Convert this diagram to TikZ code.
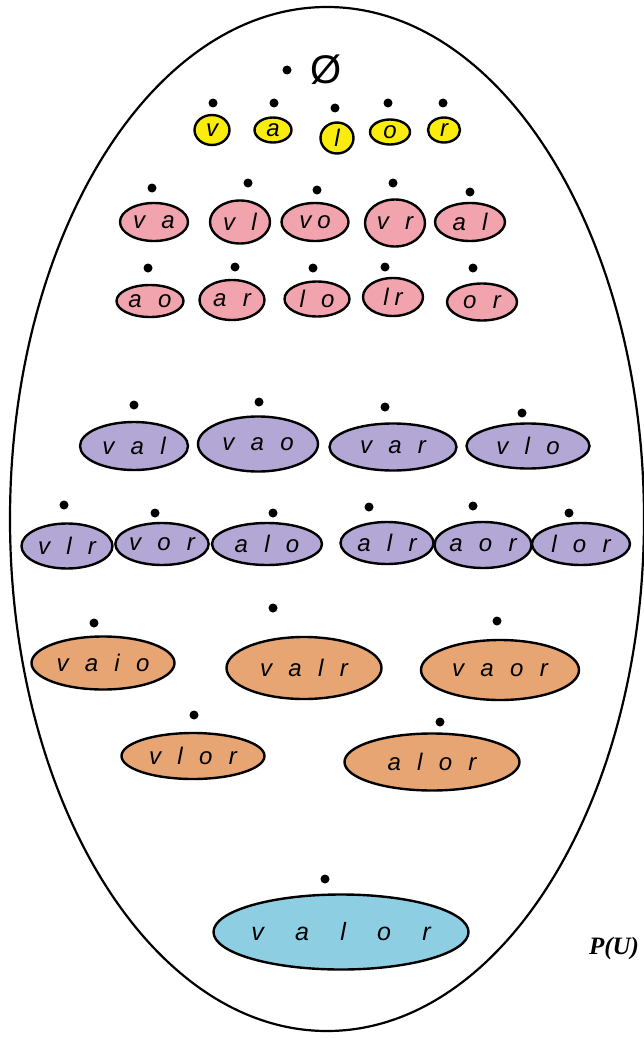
\documentclass[tikz,border=0pt]{standalone}
\usepackage{fontspec}
\setmainfont{Liberation Sans}
\newfontfamily\timesfont{Liberation Serif}
\usepackage{tikz}
\usetikzlibrary{shapes.geometric,positioning}
\usepackage{xcolor}
\definecolor{oneyellow}{RGB}{250,236,12}
\definecolor{twopink}{RGB}{242,164,174}
\definecolor{threeviolet}{RGB}{179,167,213}
\definecolor{fourorange}{RGB}{231,165,115}
\definecolor{fiveblue}{RGB}{142,206,226}
\newcommand{\lgap}{\hspace{0.68em}}
\newcommand{\sgap}{\hspace{0.25em}}
\newcommand{\wgap}{\hspace{1.25em}}

\begin{document}
\begin{tikzpicture}[x=1pt, y=-1pt,
  subset/.style={ellipse, draw=black, line width=2.4pt, inner sep=0pt, text=black, font=\fontsize{24}{26}\selectfont\itshape},
  elem/.style={subset, fill=oneyellow, font=\fontsize{24}{26}\selectfont\itshape},
  dot/.style={circle, fill=black, inner sep=0pt, minimum size=9pt}]
\useasboundingbox (0,0) rectangle (643,1038);
%

% POWER SET
\node [ellipse, draw=black, line width=2.2pt, minimum width=634pt, minimum height=1024pt] (PU) at (327,519) {};
\node [font=\fontsize{25}{27}\selectfont\timesfont\bfseries\itshape] (PU_label) at (614,948) {P(U)};

% EMPTY SET
\node [dot] (d_empty) at (287,70) {};
\node [font=\fontsize{40}{42}\selectfont] (empty) at (326,70) {Ø};

% ONE ELEMENT
\node [elem, minimum width=35pt, minimum height=30pt] (v) at (212,130) {v};
\node [elem, minimum width=37pt, minimum height=25pt] (a) at (273,130) {a};
\node [elem, minimum width=33pt, minimum height=31pt] (l) at (337,138) {l};
\node [elem, minimum width=40pt, minimum height=25pt] (o) at (390,132) {o};
\node [elem, minimum width=32pt, minimum height=25pt] (r) at (444,130) {r};
\node [dot] (d_v) at (213,103) {};
\node [dot] (d_a) at (274,103) {};
\node [dot] (d_l) at (335,108) {};
\node [dot] (d_o) at (388,103) {};
\node [dot] (d_r) at (443,103) {};

% TWO ELEMENTS
\node [subset, fill=twopink, minimum width=68pt, minimum height=38pt] (va) at (154,222) {v\lgap a};
\node [subset, fill=twopink, minimum width=60pt, minimum height=43pt] (vl) at (240,222) {v\lgap l};
\node [subset, fill=twopink, minimum width=67pt, minimum height=38pt] (vo) at (315,222) {v\sgap o};
\node [subset, fill=twopink, minimum width=60pt, minimum height=47pt] (vr) at (395,223) {v\lgap r};
\node [subset, fill=twopink, minimum width=70pt, minimum height=38pt] (al) at (470,222) {a\lgap l};
\node [subset, fill=twopink, minimum width=67pt, minimum height=32pt] (ao) at (150,301) {a\lgap o};
\node [subset, fill=twopink, minimum width=65pt, minimum height=40pt] (ar) at (232,300) {a\lgap r};
\node [subset, fill=twopink, minimum width=65pt, minimum height=35pt] (lo) at (317,299) {l\lgap o};
\node [subset, fill=twopink, minimum width=60pt, minimum height=38pt] (lr) at (393,297) {l\sgap r};
\node [subset, fill=twopink, minimum width=70pt, minimum height=37pt] (or) at (482,302) {o\lgap r};
\node [dot] (d_va) at (152,188) {};
\node [dot] (d_vl) at (248,183) {};
\node [dot] (d_vo) at (317,190) {};
\node [dot] (d_vr) at (393,183) {};
\node [dot] (d_al) at (470,192) {};
\node [dot] (d_ao) at (148,268) {};
\node [dot] (d_ar) at (235,267) {};
\node [dot] (d_lo) at (313,268) {};
\node [dot] (d_lr) at (385,267) {};
\node [dot] (d_or) at (473,268) {};

% THREE ELEMENTS
\node [subset, fill=threeviolet, minimum width=108pt, minimum height=48pt] (val) at (134,446) {v\lgap a\lgap l};
\node [subset, fill=threeviolet, minimum width=120pt, minimum height=55pt] (vao) at (258,444) {v\lgap a\lgap o};
\node [subset, fill=threeviolet, minimum width=127pt, minimum height=47pt] (var) at (393,447) {v\lgap a\lgap r};
\node [subset, fill=threeviolet, minimum width=123pt, minimum height=45pt] (vlo) at (528,446) {v\lgap l\lgap o};
\node [subset, fill=threeviolet, minimum width=91pt, minimum height=45pt] (vlr) at (67,546) {v\lgap l\lgap r};
\node [subset, fill=threeviolet, minimum width=79pt, minimum height=42pt] (vor) at (162,544) {v\lgap o\lgap r};
\node [subset, fill=threeviolet, minimum width=110pt, minimum height=42pt] (alo) at (267,544) {a\lgap l\lgap o};
\node [subset, fill=threeviolet, minimum width=93pt, minimum height=42pt] (alr) at (387,543) {a\lgap l\lgap r};
\node [subset, fill=threeviolet, minimum width=97pt, minimum height=46pt] (aor) at (483,545) {a\lgap o\lgap r};
\node [subset, fill=threeviolet, minimum width=98pt, minimum height=42pt] (lor) at (581,544) {l\lgap o\lgap r};
\node [dot] (d_val) at (134,405) {};
\node [dot] (d_vao) at (259,402) {};
\node [dot] (d_var) at (385,407) {};
\node [dot] (d_vlo) at (522,413) {};
\node [dot] (d_vlr) at (64,505) {};
\node [dot] (d_vor) at (155,513) {};
\node [dot] (d_alo) at (273,513) {};
\node [dot] (d_alr) at (369,507) {};
\node [dot] (d_aor) at (473,506) {};
\node [dot] (d_lor) at (569,513) {};

% FOUR ELEMENTS
\node [subset, fill=fourorange, minimum width=143pt, minimum height=53pt] (vaio) at (103,663) {v\lgap a\lgap i\lgap o};
\node [subset, fill=fourorange, minimum width=155pt, minimum height=62pt] (valr) at (304,668) {v\lgap a\lgap l\lgap r};
\node [subset, fill=fourorange, minimum width=158pt, minimum height=60pt] (vaor) at (500,670) {v\lgap a\lgap o\lgap r};
\node [subset, fill=fourorange, minimum width=143pt, minimum height=46pt] (vlor) at (193,756) {v\lgap l\lgap o\lgap r};
\node [subset, fill=fourorange, minimum width=175pt, minimum height=57pt] (alor) at (432,762) {a\lgap l\lgap o\lgap r};
\node [dot] (d_vaio) at (94,623) {};
\node [dot] (d_valr) at (273,608) {};
\node [dot] (d_vaor) at (497,621) {};
\node [dot] (d_vlor) at (194,715) {};
\node [dot] (d_alor) at (440,722) {};

% FIVE ELEMENTS
\node [subset, fill=fiveblue, minimum width=255pt, minimum height=75pt, font=\fontsize{25}{27}\selectfont\itshape] (valor) at (341,932) {v\wgap a\wgap l\wgap o\wgap r};
\node [dot] (d_valor) at (325,879) {};
\end{tikzpicture}
\end{document}
